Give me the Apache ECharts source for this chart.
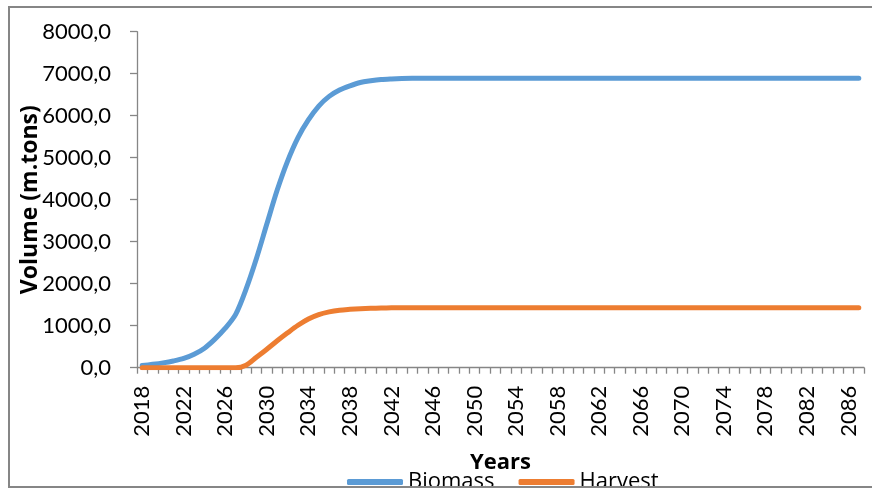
<!DOCTYPE html>
<html>
<head>
<meta charset="utf-8">
<script src="https://cdn.jsdelivr.net/npm/echarts@6/dist/echarts.min.js"></script>
<style>
html,body{margin:0;padding:0;background:#fff;}
#chart{width:872px;height:488px;}
</style>
</head>
<body>
<div id="chart"></div>
<script>
var years = ['2018','2019','2020','2021','2022','2023','2024','2025','2026','2027',
  '2028','2029','2030','2031','2032','2033','2034','2035','2036','2037',
  '2038','2039','2040','2041','2042','2043','2044','2045','2046','2047',
  '2048','2049','2050','2051','2052','2053','2054','2055','2056','2057',
  '2058','2059','2060','2061','2062','2063','2064','2065','2066','2067',
  '2068','2069','2070','2071','2072','2073','2074','2075','2076','2077',
  '2078','2079','2080','2081','2082','2083','2084','2085','2086','2087'];

var biomass = [50,80,115,160,220,320,465,680,940,1270,
  1870,2600,3420,4230,4920,5480,5900,6230,6460,6610,
  6710,6790,6830,6860,6875,6885,6890,6890,6890,6890,
  6890,6890,6890,6890,6890,6890,6890,6890,6890,6890,
  6890,6890,6890,6890,6890,6890,6890,6890,6890,6890,
  6890,6890,6890,6890,6890,6890,6890,6890,6890,6890,
  6890,6890,6890,6890,6890,6890,6890,6890,6890,6890];

var harvest = [0,0,0,0,0,0,0,0,0,0,
  60,250,440,640,830,1010,1160,1265,1330,1370,
  1390,1405,1415,1420,1425,1430,1430,1430,1430,1430,
  1430,1430,1430,1430,1430,1430,1430,1430,1430,1430,
  1430,1430,1430,1430,1430,1430,1430,1430,1430,1430,
  1430,1430,1430,1430,1430,1430,1430,1430,1430,1430,
  1430,1430,1430,1430,1430,1430,1430,1430,1430,1430];

var seriesNames = ['Biomass', 'Harvest'];
var seriesColors = ['#5B9BD5', '#ED7D31'];
var yAxisTitle = 'Volume (m.tons)';
var xAxisTitle = 'Years';

var FONT = 'Lato';
var TITLE_FONT = 'Open Sans';
var chart = echarts.init(document.getElementById('chart'), null, {renderer: 'canvas'});
chart.setOption({
  animation: false,
  backgroundColor: '#ffffff',
  grid: {left: 137, right: 8, top: 31.7, bottom: 120.3, containLabel: false},
  legend: {
    data: seriesNames.map(function (n, i) {
      return {name: n, itemStyle: {color: seriesColors[i]}};
    }),
    left: 342,
    top: 466,
    icon: 'roundRect',
    itemWidth: 56,
    itemHeight: 6,
    itemGap: 24,
    textStyle: {fontFamily: TITLE_FONT, fontSize: 22, color: '#000', padding: [0, 0, 8, 0]}
  },
  xAxis: {
    type: 'category',
    data: years,
    boundaryGap: true,
    name: xAxisTitle,
    nameLocation: 'middle',
    nameGap: 84,
    nameTextStyle: {fontFamily: TITLE_FONT, fontSize: 22, fontWeight: 'bold', color: '#000'},
    axisLine: {lineStyle: {color: '#868686', width: 1.3}},
    axisTick: {show: true, interval: 0, length: 6, alignWithLabel: false, lineStyle: {color: '#868686', width: 1.3}},
    axisLabel: {interval: 3, rotate: 90, margin: 18, fontFamily: FONT, fontSize: 22, color: '#000'},
    splitLine: {show: false}
  },
  yAxis: {
    type: 'value',
    min: 0,
    max: 8000,
    interval: 1000,
    name: yAxisTitle,
    nameLocation: 'middle',
    nameRotate: 90,
    nameGap: 95,
    nameMoveOverlap: false,
    nameTextStyle: {fontFamily: TITLE_FONT, fontSize: 23, fontWeight: 'bold', color: '#000'},
    axisLine: {show: true, lineStyle: {color: '#868686', width: 1.3}},
    axisTick: {show: true, length: 7, lineStyle: {color: '#868686', width: 1.3}},
    axisLabel: {margin: 26, fontFamily: FONT, fontSize: 22, color: '#000',
      formatter: function (v) { return v.toFixed(1).replace('.', ','); }},
    splitLine: {show: false}
  },
  series: [
    {name: seriesNames[0], type: 'line', data: biomass, symbol: 'none', smooth: 0.3,
      itemStyle: {color: seriesColors[0]},
      lineStyle: {width: 5, color: seriesColors[0], cap: 'round', join: 'round'}},
    {name: seriesNames[1], type: 'line', data: harvest, symbol: 'none', smooth: 0.3,
      itemStyle: {color: seriesColors[1]},
      lineStyle: {width: 5, color: seriesColors[1], cap: 'round', join: 'round'}}
  ],
  graphic: [{
    type: 'rect', z: 100, silent: true,
    shape: {x: 9, y: 7, width: 900, height: 480},
    style: {fill: 'none', stroke: '#868686', lineWidth: 2}
  }]
});
</script>
</body>
</html>
